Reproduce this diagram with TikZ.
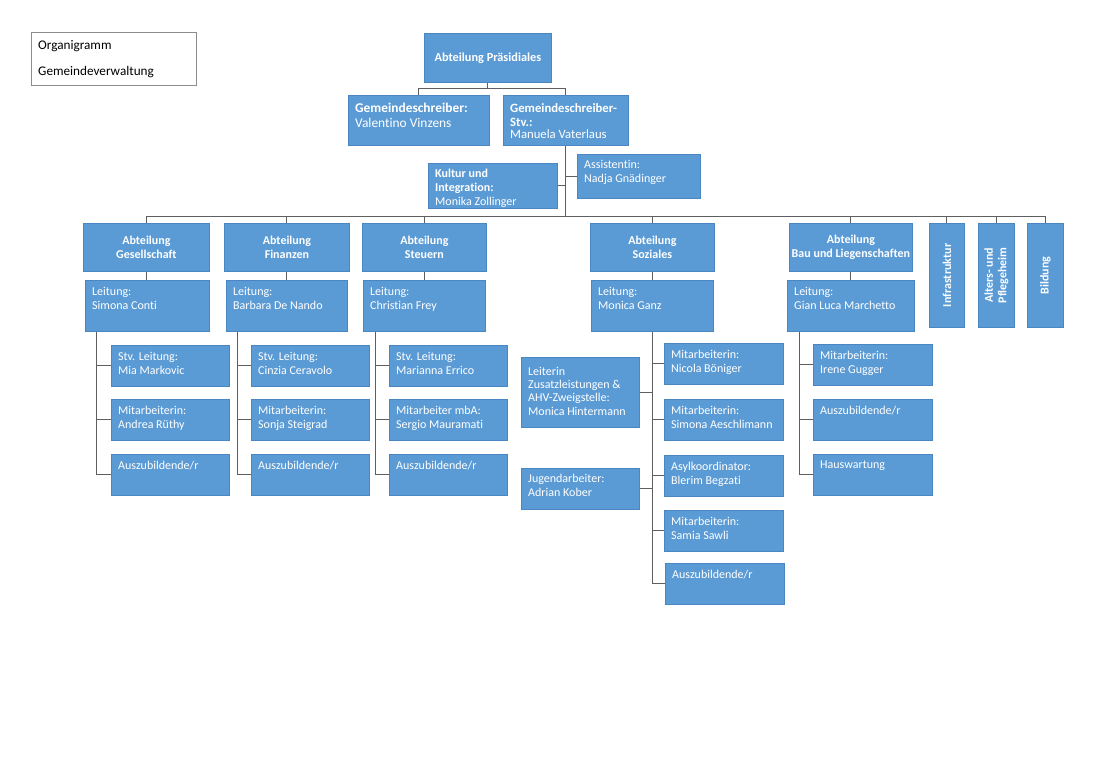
\documentclass[tikz,border=0pt]{standalone}
\usepackage{fontspec}
\setmainfont{Carlito}[Ligatures=NoCommon]
\usetikzlibrary{calc}
\definecolor{boxfill}{HTML}{5B9BD5}
\definecolor{boxline}{HTML}{4A86C2}
\definecolor{conncol}{HTML}{5F5F5F}
\definecolor{titleline}{HTML}{8C8C8C}
\tikzset{
  orgbox/.style={draw=boxline, line width=0.8pt, fill=boxfill, inner sep=0pt},
  orgtxt/.style={inner sep=0pt, anchor=north west, align=left, text=white, font=\fontsize{12}{13.8}\selectfont},
  bigtxt/.style={orgtxt, font=\fontsize{13.4}{15}\selectfont},
  depttxt/.style={inner sep=0pt, align=center, text=white, font=\bfseries\fontsize{12}{13.5}\selectfont},
  conn/.style={draw=conncol, line width=0.9pt},
}
\newcommand{\mkbox}[5]{\node[orgbox, anchor=north west, minimum width=#4pt, minimum height=#5pt] (#1) at (#2,#3) {};}
\newcommand{\mktext}[4][orgtxt]{\node[#1] (#2-t) at ($(#2.north west)+(7,#3)$) {#4};}
\begin{document}
\begin{tikzpicture}[x=1pt,y=-1pt]
\useasboundingbox (0,0) rectangle (1110,781);
\fill[white] (0,0) rectangle (1110,781);

% title box
\node[draw=titleline, line width=0.8pt, fill=white, anchor=north west, minimum width=165pt, minimum height=53pt, inner sep=0pt] (title) at (31,32) {};
\node[inner sep=0pt, anchor=north west, align=left, font=\fontsize{13.2}{26}\selectfont] (title-t) at ($(title.north west)+(7,8)$) {Organigramm\\Gemeindeverwaltung};

% top level
\mkbox{pres}{424}{33}{127}{49}
\node[depttxt, font=\bfseries\fontsize{12.3}{14}\selectfont] (pres-t) at (pres.center) {Abteilung Präsidiales};
\mkbox{gs}{348}{95}{141}{50}
\mktext[bigtxt]{gs}{8}{\textbf{Gemeindeschreiber:}\\Valentino Vinzens}
\mkbox{stv}{503}{95}{125}{50}
\node[orgtxt, font=\fontsize{12.7}{14.2}\selectfont] (stv-t) at ($(stv.north west)+(7,8)$) {\textbf{Gemeindeschreiber-}\\\textbf{Stv.:}\\[-2pt]Manuela Vaterlaus};
\mkbox{kult}{428}{163}{129}{45}
\mktext{kult}{6}{\textbf{Kultur und}\\\textbf{Integration:}\\Monika Zollinger}
\mkbox{assi}{577}{154}{123}{44}
\mktext{assi}{6}{Assistentin:\\Nadja Gnädinger}

% departments
\mkbox{dG}{83}{223}{126}{48}
\node[depttxt] at (dG.center) {Abteilung\\Gesellschaft};
\mkbox{dF}{224}{223}{125}{48}
\node[depttxt] at (dF.center) {Abteilung\\Finanzen};
\mkbox{dS}{362}{223}{124}{48}
\node[depttxt] at (dS.center) {Abteilung\\Steuern};
\mkbox{dSo}{590}{223}{124}{48}
\node[depttxt] at (dSo.center) {Abteilung\\Soziales};
\mkbox{dB}{789}{223}{123}{48}
\node[depttxt] at (dB.center) {Abteilung\\Bau und Liegenschaften};
\mkbox{dI}{929}{223}{35}{104}
\node[depttxt, rotate=90] at (dI.center) {Infrastruktur};
\mkbox{dA}{978}{223}{36}{104}
\node[depttxt, rotate=90] at (dA.center) {Alters- und\\Pflegeheim};
\mkbox{dBi}{1027}{223}{36}{104}
\node[depttxt, rotate=90] at (dBi.center) {Bildung};

% Leitung
\mkbox{lG}{85}{280}{124}{51}
\mktext{lG}{7}{Leitung:\\Simona Conti}
\mkbox{lF}{226}{280}{121}{51}
\mktext{lF}{7}{Leitung:\\Barbara De Nando}
\mkbox{lS}{363}{280}{122}{51}
\mktext{lS}{7}{Leitung:\\Christian Frey}
\mkbox{lSo}{591}{280}{122}{51}
\mktext{lSo}{7}{Leitung:\\Monica Ganz}
\mkbox{lB}{787}{280}{127}{51}
\mktext{lB}{7}{Leitung:\\Gian Luca Marchetto}

% Gesellschaft staff
\mkbox{g1}{111}{345}{118}{41}
\mktext{g1}{7}{Stv. Leitung:\\Mia Markovic}
\mkbox{g2}{111}{399}{118}{41}
\mktext{g2}{7}{Mitarbeiterin:\\Andrea Rüthy}
\mkbox{g3}{111}{454}{118}{41}
\mktext{g3}{7}{Auszubildende/r}
% Finanzen staff
\mkbox{f1}{251}{345}{118}{41}
\mktext{f1}{7}{Stv. Leitung:\\Cinzia Ceravolo}
\mkbox{f2}{251}{399}{118}{41}
\mktext{f2}{7}{Mitarbeiterin:\\Sonja Steigrad}
\mkbox{f3}{251}{454}{118}{41}
\mktext{f3}{7}{Auszubildende/r}
% Steuern staff
\mkbox{s1}{389}{345}{118}{41}
\mktext{s1}{7}{Stv. Leitung:\\Marianna Errico}
\mkbox{s2}{389}{399}{118}{41}
\mktext{s2}{7}{Mitarbeiter mbA:\\Sergio Mauramati}
\mkbox{s3}{389}{454}{118}{41}
\mktext{s3}{7}{Auszubildende/r}
% Soziales staff
\mkbox{z1}{664}{343}{119}{41}
\mktext{z1}{7}{Mitarbeiterin:\\Nicola Böniger}
\mkbox{z2}{664}{399}{119}{41}
\mktext{z2}{7}{Mitarbeiterin:\\Simona Aeschlimann}
\mkbox{z3}{664}{455}{119}{41}
\mktext{z3}{7}{Asylkoordinator:\\Blerim Begzati}
\mkbox{z4}{664}{510}{119}{41}
\mktext{z4}{7}{Mitarbeiterin:\\Samia Sawli}
\mkbox{z5}{665}{563}{119}{41}
\mktext{z5}{7}{Auszubildende/r}
\mkbox{zl1}{521}{357}{118}{70}
\node[orgtxt, font=\fontsize{12}{13.2}\selectfont] (zl1-t) at ($(zl1.north west)+(7,10)$) {Leiterin\\Zusatzleistungen \&\\AHV-Zweigstelle:\\Monica Hintermann};
\mkbox{zl2}{521}{468}{118}{41}
\mktext{zl2}{6}{Jugendarbeiter:\\Adrian Kober}
% Bau staff
\mkbox{b1}{813}{344}{119}{41}
\mktext{b1}{7}{Mitarbeiterin:\\Irene Gugger}
\mkbox{b2}{813}{399}{119}{41}
\mktext{b2}{7}{Auszubildende/r}
\mkbox{b3}{813}{454}{119}{41}
\mktext{b3}{7}{Hauswartung}

% ---------------- connectors ----------------
\coordinate (presj) at ($(pres.south)+(0,6)$);
\draw[conn] (pres.south) -- (presj) -| (gs.north);
\draw[conn] (presj) -| (stv.north);
\coordinate (hub) at (stv.south |- 0,216);
\draw[conn] (stv.south) -- (hub);
\draw[conn] (kult.east) -- (kult.east -| stv.south);
\draw[conn] (assi.west) -- (assi.west -| stv.south);
\foreach \d in {dG,dF,dS,dSo,dB,dI,dA,dBi}{
  \draw[conn] (hub) -| (\d.north);
}
\draw[conn] (dG.south) -- (dG.south |- lG.north);
\draw[conn] (dF.south) -- (dF.south |- lF.north);
\draw[conn] (dS.south) -- (dS.south |- lS.north);
\draw[conn] (dSo.south) -- (dSo.south |- lSo.north);
\draw[conn] (dB.south) -- (dB.south |- lB.north);

\coordinate (gA) at ($(lG.south west)+(11,0)$);
\foreach \b in {g1,g2,g3}{\draw[conn] (gA) |- (\b.west);}
\coordinate (fA) at ($(lF.south west)+(11,0)$);
\foreach \b in {f1,f2,f3}{\draw[conn] (fA) |- (\b.west);}
\coordinate (sA) at ($(lS.south west)+(12,0)$);
\foreach \b in {s1,s2,s3}{\draw[conn] (sA) |- (\b.west);}
\coordinate (zA) at (lSo.south);
\foreach \b in {z1,z2,z3,z4,z5}{\draw[conn] (zA) |- (\b.west);}
\draw[conn] (zl1.east) -- (zl1.east -| zA);
\draw[conn] (zl2.east) -- (zl2.east -| zA);
\coordinate (bA) at ($(lB.south west)+(12,0)$);
\foreach \b in {b1,b2,b3}{\draw[conn] (bA) |- (\b.west);}
\end{tikzpicture}
\end{document}
